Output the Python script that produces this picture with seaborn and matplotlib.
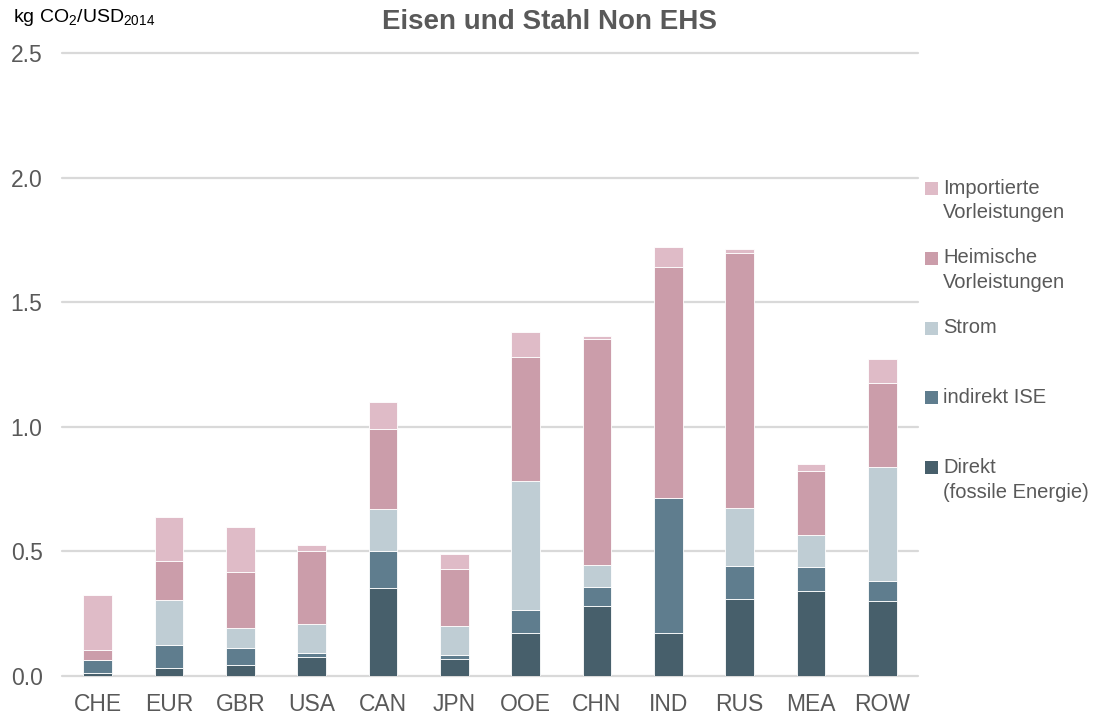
import numpy as np
import seaborn as sns
import matplotlib.pyplot as plt
from matplotlib.patches import Rectangle

# Data (kg CO2 per USD 2014)
regions = ['CHE', 'EUR', 'GBR', 'USA', 'CAN', 'JPN', 'OOE', 'CHN', 'IND', 'RUS', 'MEA', 'ROW']
direkt = [0.013, 0.033, 0.045, 0.077, 0.352, 0.067, 0.171, 0.281, 0.171, 0.309, 0.340, 0.302]
indirekt = [0.051, 0.091, 0.069, 0.015, 0.150, 0.017, 0.094, 0.077, 0.542, 0.134, 0.096, 0.080]
strom = [0.000, 0.181, 0.080, 0.117, 0.168, 0.117, 0.517, 0.086, 0.000, 0.232, 0.130, 0.457]
heimisch = [0.040, 0.155, 0.223, 0.291, 0.321, 0.228, 0.498, 0.908, 0.929, 1.024, 0.257, 0.338]
importiert = [0.221, 0.180, 0.181, 0.025, 0.107, 0.061, 0.100, 0.014, 0.078, 0.014, 0.027, 0.095]

layers = [direkt, indirekt, strom, heimisch, importiert]
labels = ['Direkt\n(fossile Energie)', 'indirekt ISE', 'Strom',
          'Heimische\nVorleistungen', 'Importierte\nVorleistungen']
colors = ['#475F6B', '#5F7D8E', '#BFCDD4', '#CB9DAA', '#DFBBC7']

sns.set_style('white')
plt.rcParams['font.family'] = ['Liberation Sans', 'DejaVu Sans']
plt.rcParams['mathtext.fontset'] = 'custom'
plt.rcParams['mathtext.rm'] = 'Liberation Sans'

fig = plt.figure(figsize=(10.93, 7.2), dpi=100)
ax = fig.add_axes([62 / 1093, 1 - 676 / 720, (918 - 62) / 1093, (676 - 53) / 720])

# stacked bars
bottom = np.zeros(len(regions))
for vals, col in zip(layers, colors):
    sns.barplot(x=regions, y=vals, bottom=bottom, color=col, saturation=1, width=0.4,
                edgecolor='white', linewidth=0.6, errorbar=None, ax=ax)
    bottom = bottom + np.array(vals)

ax.set_ylim(0, 2.5)
ax.set_xlim(-0.5, len(regions) - 0.5)
ax.set_yticks([0, 0.5, 1.0, 1.5, 2.0, 2.5])
ax.set_yticklabels(['0.0', '0.5', '1.0', '1.5', '2.0', '2.5'])
ax.set_axisbelow(True)
ax.yaxis.grid(True, color='#D9D9D9', linewidth=1.6)
for gl in ax.get_ygridlines():
    gl.set_clip_on(False)
sns.despine(ax=ax, left=True, bottom=True)
ax.tick_params(axis='both', length=0, labelsize=16.5, colors='#595959')
ax.tick_params(axis='y', pad=14)
ax.tick_params(axis='x', pad=12)
ax.set_xlabel('')
ax.set_ylabel('')

fig.text(13 / 1093, 1 - 18 / 720, r'kg CO$_\mathrm{2}$/USD$_\mathrm{2014}$',
         fontsize=14, color='black', ha='left', va='center')
fig.text(550 / 1093, 1 - 22 / 720, 'Eisen und Stahl Non EHS', fontsize=20,
         fontweight='bold', color='#595959', ha='center', va='center')

# legend, top entry first
for i, (lab, col) in enumerate(zip(labels[::-1], colors[::-1])):
    yc = 188.5 + 69.8 * i
    fig.add_artist(Rectangle((925 / 1093, 1 - (yc + 6.5) / 720), 13 / 1093, 13 / 720,
                             transform=fig.transFigure, facecolor=col, edgecolor='none'))
    fig.text(943 / 1093, 1 - (yc - 10) / 720, lab, fontsize=14.5, color='#595959',
             ha='left', va='top', linespacing=1.4)

fig.savefig('out.png', dpi=100)
